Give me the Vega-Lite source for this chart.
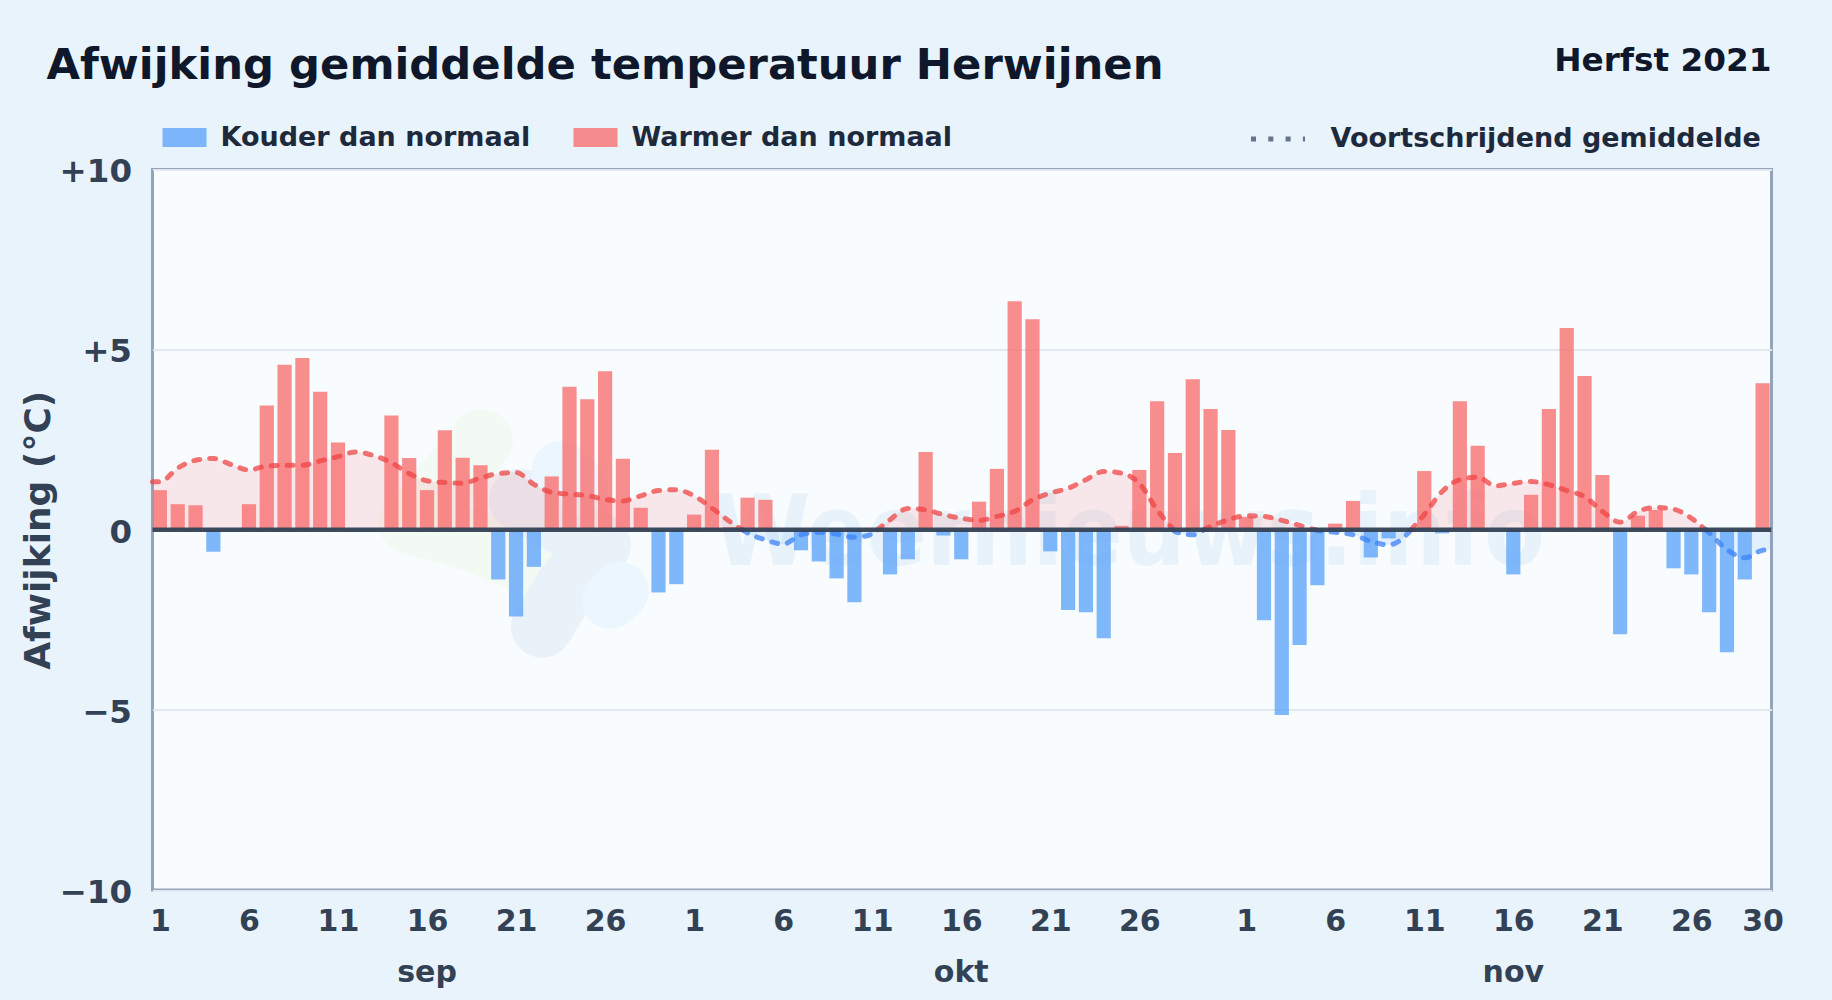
{
"$schema":"https://vega.github.io/schema/vega-lite/v6.json",
"width":1619,"height":720.5,
"autosize":{"type":"none"},
"padding":{"left":152.5,"top":169.5,"right":60,"bottom":110},
"background":"#e8f3fc",
"view":{"fill":"#f8fcff","stroke":"#94a3b8","strokeWidth":3},
"title":{"text":"Afwijking gemiddelde temperatuur Herwijnen","anchor":"start","frame":"group","dx":-106,"offset":0,"dy":44,"font":"DejaVu Sans","fontSize":43.3,"fontWeight":"bold","color":"#0f172a"},
"config":{"font":"DejaVu Sans"},
"datasets":{
"logo":[
{"datum":"2021-09-19T02:00:00Z","waarde":2.49,"vlek":"a","volgorde":1},{"datum":"2021-09-16T17:00:00Z","waarde":1.1,"vlek":"a","volgorde":2},{"datum":"2021-09-15T00:00:00Z","waarde":0.2,"vlek":"a","volgorde":3},{"datum":"2021-09-18T10:00:00Z","waarde":-0.28,"vlek":"a","volgorde":4},{"datum":"2021-09-21T14:00:00Z","waarde":-0.91,"vlek":"a","volgorde":5}
],
"logo2":[
{"datum":"2021-09-22T11:00:00Z","waarde":-2.69,"vlek":"b","volgorde":1},{"datum":"2021-09-23T17:00:00Z","waarde":-1.66,"vlek":"b","volgorde":2},{"datum":"2021-09-25T17:00:00Z","waarde":-0.42,"vlek":"b","volgorde":3},{"datum":"2021-09-21T05:00:00Z","waarde":0.83,"vlek":"b","volgorde":4}
],
"logo3":[
{"datum":"2021-09-26T07:00:00Z","waarde":-1.94,"vlek":"c"},{"datum":"2021-09-26T20:00:00Z","waarde":-1.7,"vlek":"c"},
{"datum":"2021-09-23T12:00:00Z","waarde":1.66,"vlek":"d"},{"datum":"2021-09-24T12:00:00Z","waarde":1.2,"vlek":"d"}
],
"balken":[
{"datum":"2021-09-01","waarde":1.1,"categorie":"Warmer dan normaal"},
{"datum":"2021-09-02","waarde":0.71,"categorie":"Warmer dan normaal"},
{"datum":"2021-09-03","waarde":0.68,"categorie":"Warmer dan normaal"},
{"datum":"2021-09-04","waarde":-0.61,"categorie":"Kouder dan normaal"},
{"datum":"2021-09-05","waarde":0,"categorie":"Warmer dan normaal"},
{"datum":"2021-09-06","waarde":0.71,"categorie":"Warmer dan normaal"},
{"datum":"2021-09-07","waarde":3.45,"categorie":"Warmer dan normaal"},
{"datum":"2021-09-08","waarde":4.58,"categorie":"Warmer dan normaal"},
{"datum":"2021-09-09","waarde":4.77,"categorie":"Warmer dan normaal"},
{"datum":"2021-09-10","waarde":3.83,"categorie":"Warmer dan normaal"},
{"datum":"2021-09-11","waarde":2.42,"categorie":"Warmer dan normaal"},
{"datum":"2021-09-12","waarde":0,"categorie":"Warmer dan normaal"},
{"datum":"2021-09-13","waarde":0,"categorie":"Warmer dan normaal"},
{"datum":"2021-09-14","waarde":3.17,"categorie":"Warmer dan normaal"},
{"datum":"2021-09-15","waarde":1.99,"categorie":"Warmer dan normaal"},
{"datum":"2021-09-16","waarde":1.1,"categorie":"Warmer dan normaal"},
{"datum":"2021-09-17","waarde":2.76,"categorie":"Warmer dan normaal"},
{"datum":"2021-09-18","waarde":2.0,"categorie":"Warmer dan normaal"},
{"datum":"2021-09-19","waarde":1.79,"categorie":"Warmer dan normaal"},
{"datum":"2021-09-20","waarde":-1.38,"categorie":"Kouder dan normaal"},
{"datum":"2021-09-21","waarde":-2.41,"categorie":"Kouder dan normaal"},
{"datum":"2021-09-22","waarde":-1.03,"categorie":"Kouder dan normaal"},
{"datum":"2021-09-23","waarde":1.48,"categorie":"Warmer dan normaal"},
{"datum":"2021-09-24","waarde":3.97,"categorie":"Warmer dan normaal"},
{"datum":"2021-09-25","waarde":3.62,"categorie":"Warmer dan normaal"},
{"datum":"2021-09-26","waarde":4.4,"categorie":"Warmer dan normaal"},
{"datum":"2021-09-27","waarde":1.97,"categorie":"Warmer dan normaal"},
{"datum":"2021-09-28","waarde":0.61,"categorie":"Warmer dan normaal"},
{"datum":"2021-09-29","waarde":-1.74,"categorie":"Kouder dan normaal"},
{"datum":"2021-09-30","waarde":-1.51,"categorie":"Kouder dan normaal"},
{"datum":"2021-10-01","waarde":0.42,"categorie":"Warmer dan normaal"},
{"datum":"2021-10-02","waarde":2.22,"categorie":"Warmer dan normaal"},
{"datum":"2021-10-03","waarde":0.07,"categorie":"Warmer dan normaal"},
{"datum":"2021-10-04","waarde":0.89,"categorie":"Warmer dan normaal"},
{"datum":"2021-10-05","waarde":0.83,"categorie":"Warmer dan normaal"},
{"datum":"2021-10-06","waarde":0,"categorie":"Warmer dan normaal"},
{"datum":"2021-10-07","waarde":-0.57,"categorie":"Kouder dan normaal"},
{"datum":"2021-10-08","waarde":-0.88,"categorie":"Kouder dan normaal"},
{"datum":"2021-10-09","waarde":-1.35,"categorie":"Kouder dan normaal"},
{"datum":"2021-10-10","waarde":-2.01,"categorie":"Kouder dan normaal"},
{"datum":"2021-10-11","waarde":0,"categorie":"Warmer dan normaal"},
{"datum":"2021-10-12","waarde":-1.24,"categorie":"Kouder dan normaal"},
{"datum":"2021-10-13","waarde":-0.82,"categorie":"Kouder dan normaal"},
{"datum":"2021-10-14","waarde":2.16,"categorie":"Warmer dan normaal"},
{"datum":"2021-10-15","waarde":-0.16,"categorie":"Kouder dan normaal"},
{"datum":"2021-10-16","waarde":-0.82,"categorie":"Kouder dan normaal"},
{"datum":"2021-10-17","waarde":0.78,"categorie":"Warmer dan normaal"},
{"datum":"2021-10-18","waarde":1.69,"categorie":"Warmer dan normaal"},
{"datum":"2021-10-19","waarde":6.34,"categorie":"Warmer dan normaal"},
{"datum":"2021-10-20","waarde":5.84,"categorie":"Warmer dan normaal"},
{"datum":"2021-10-21","waarde":-0.6,"categorie":"Kouder dan normaal"},
{"datum":"2021-10-22","waarde":-2.23,"categorie":"Kouder dan normaal"},
{"datum":"2021-10-23","waarde":-2.29,"categorie":"Kouder dan normaal"},
{"datum":"2021-10-24","waarde":-3.01,"categorie":"Kouder dan normaal"},
{"datum":"2021-10-25","waarde":0.11,"categorie":"Warmer dan normaal"},
{"datum":"2021-10-26","waarde":1.66,"categorie":"Warmer dan normaal"},
{"datum":"2021-10-27","waarde":3.57,"categorie":"Warmer dan normaal"},
{"datum":"2021-10-28","waarde":2.13,"categorie":"Warmer dan normaal"},
{"datum":"2021-10-29","waarde":4.18,"categorie":"Warmer dan normaal"},
{"datum":"2021-10-30","waarde":3.35,"categorie":"Warmer dan normaal"},
{"datum":"2021-10-31","waarde":2.77,"categorie":"Warmer dan normaal"},
{"datum":"2021-11-01","waarde":0.35,"categorie":"Warmer dan normaal"},
{"datum":"2021-11-02","waarde":-2.51,"categorie":"Kouder dan normaal"},
{"datum":"2021-11-03","waarde":-5.14,"categorie":"Kouder dan normaal"},
{"datum":"2021-11-04","waarde":-3.2,"categorie":"Kouder dan normaal"},
{"datum":"2021-11-05","waarde":-1.54,"categorie":"Kouder dan normaal"},
{"datum":"2021-11-06","waarde":0.17,"categorie":"Warmer dan normaal"},
{"datum":"2021-11-07","waarde":0.8,"categorie":"Warmer dan normaal"},
{"datum":"2021-11-08","waarde":-0.77,"categorie":"Kouder dan normaal"},
{"datum":"2021-11-09","waarde":-0.24,"categorie":"Kouder dan normaal"},
{"datum":"2021-11-10","waarde":0,"categorie":"Warmer dan normaal"},
{"datum":"2021-11-11","waarde":1.63,"categorie":"Warmer dan normaal"},
{"datum":"2021-11-12","waarde":-0.1,"categorie":"Kouder dan normaal"},
{"datum":"2021-11-13","waarde":3.57,"categorie":"Warmer dan normaal"},
{"datum":"2021-11-14","waarde":2.33,"categorie":"Warmer dan normaal"},
{"datum":"2021-11-15","waarde":0,"categorie":"Warmer dan normaal"},
{"datum":"2021-11-16","waarde":-1.24,"categorie":"Kouder dan normaal"},
{"datum":"2021-11-17","waarde":0.97,"categorie":"Warmer dan normaal"},
{"datum":"2021-11-18","waarde":3.35,"categorie":"Warmer dan normaal"},
{"datum":"2021-11-19","waarde":5.6,"categorie":"Warmer dan normaal"},
{"datum":"2021-11-20","waarde":4.27,"categorie":"Warmer dan normaal"},
{"datum":"2021-11-21","waarde":1.52,"categorie":"Warmer dan normaal"},
{"datum":"2021-11-22","waarde":-2.9,"categorie":"Kouder dan normaal"},
{"datum":"2021-11-23","waarde":0.39,"categorie":"Warmer dan normaal"},
{"datum":"2021-11-24","waarde":0.55,"categorie":"Warmer dan normaal"},
{"datum":"2021-11-25","waarde":-1.07,"categorie":"Kouder dan normaal"},
{"datum":"2021-11-26","waarde":-1.24,"categorie":"Kouder dan normaal"},
{"datum":"2021-11-27","waarde":-2.29,"categorie":"Kouder dan normaal"},
{"datum":"2021-11-28","waarde":-3.4,"categorie":"Kouder dan normaal"},
{"datum":"2021-11-29","waarde":-1.38,"categorie":"Kouder dan normaal"},
{"datum":"2021-11-30","waarde":4.07,"categorie":"Warmer dan normaal"}
],
"gemiddelde":[
{"datum":"2021-08-31T14:00:00Z","waarde":1.33,"categorie":"Warmer dan normaal","segment":1},
{"datum":"2021-09-01","waarde":1.33,"categorie":"Warmer dan normaal","segment":1},
{"datum":"2021-09-02","waarde":1.71,"categorie":"Warmer dan normaal","segment":1},
{"datum":"2021-09-03","waarde":1.93,"categorie":"Warmer dan normaal","segment":1},
{"datum":"2021-09-04","waarde":1.98,"categorie":"Warmer dan normaal","segment":1},
{"datum":"2021-09-05","waarde":1.81,"categorie":"Warmer dan normaal","segment":1},
{"datum":"2021-09-06","waarde":1.66,"categorie":"Warmer dan normaal","segment":1},
{"datum":"2021-09-07","waarde":1.77,"categorie":"Warmer dan normaal","segment":1},
{"datum":"2021-09-08","waarde":1.79,"categorie":"Warmer dan normaal","segment":1},
{"datum":"2021-09-09","waarde":1.79,"categorie":"Warmer dan normaal","segment":1},
{"datum":"2021-09-10","waarde":1.91,"categorie":"Warmer dan normaal","segment":1},
{"datum":"2021-09-11","waarde":2.03,"categorie":"Warmer dan normaal","segment":1},
{"datum":"2021-09-12","waarde":2.16,"categorie":"Warmer dan normaal","segment":1},
{"datum":"2021-09-13","waarde":2.06,"categorie":"Warmer dan normaal","segment":1},
{"datum":"2021-09-14","waarde":1.86,"categorie":"Warmer dan normaal","segment":1},
{"datum":"2021-09-15","waarde":1.56,"categorie":"Warmer dan normaal","segment":1},
{"datum":"2021-09-16","waarde":1.36,"categorie":"Warmer dan normaal","segment":1},
{"datum":"2021-09-17","waarde":1.31,"categorie":"Warmer dan normaal","segment":1},
{"datum":"2021-09-18","waarde":1.29,"categorie":"Warmer dan normaal","segment":1},
{"datum":"2021-09-19","waarde":1.44,"categorie":"Warmer dan normaal","segment":1},
{"datum":"2021-09-20","waarde":1.56,"categorie":"Warmer dan normaal","segment":1},
{"datum":"2021-09-21","waarde":1.59,"categorie":"Warmer dan normaal","segment":1},
{"datum":"2021-09-22","waarde":1.26,"categorie":"Warmer dan normaal","segment":1},
{"datum":"2021-09-23","waarde":1.04,"categorie":"Warmer dan normaal","segment":1},
{"datum":"2021-09-24","waarde":0.99,"categorie":"Warmer dan normaal","segment":1},
{"datum":"2021-09-25","waarde":0.95,"categorie":"Warmer dan normaal","segment":1},
{"datum":"2021-09-26","waarde":0.84,"categorie":"Warmer dan normaal","segment":1},
{"datum":"2021-09-27","waarde":0.8,"categorie":"Warmer dan normaal","segment":1},
{"datum":"2021-09-28","waarde":0.94,"categorie":"Warmer dan normaal","segment":1},
{"datum":"2021-09-29","waarde":1.09,"categorie":"Warmer dan normaal","segment":1},
{"datum":"2021-09-30","waarde":1.11,"categorie":"Warmer dan normaal","segment":1},
{"datum":"2021-10-01","waarde":0.94,"categorie":"Warmer dan normaal","segment":1},
{"datum":"2021-10-02","waarde":0.6,"categorie":"Warmer dan normaal","segment":1},
{"datum":"2021-10-03","waarde":0.23,"categorie":"Warmer dan normaal","segment":1},
{"datum":"2021-10-03T17:00:00Z","waarde":0,"categorie":"Warmer dan normaal","segment":1},
{"datum":"2021-10-03T17:00:00Z","waarde":0,"categorie":"Kouder dan normaal","segment":2},
{"datum":"2021-10-04","waarde":-0.09,"categorie":"Kouder dan normaal","segment":2},
{"datum":"2021-10-05","waarde":-0.28,"categorie":"Kouder dan normaal","segment":2},
{"datum":"2021-10-06","waarde":-0.4,"categorie":"Kouder dan normaal","segment":2},
{"datum":"2021-10-07","waarde":-0.14,"categorie":"Kouder dan normaal","segment":2},
{"datum":"2021-10-08","waarde":-0.07,"categorie":"Kouder dan normaal","segment":2},
{"datum":"2021-10-09","waarde":-0.12,"categorie":"Kouder dan normaal","segment":2},
{"datum":"2021-10-10","waarde":-0.21,"categorie":"Kouder dan normaal","segment":2},
{"datum":"2021-10-11","waarde":-0.12,"categorie":"Kouder dan normaal","segment":2},
{"datum":"2021-10-11T07:00:00Z","waarde":0,"categorie":"Kouder dan normaal","segment":2},
{"datum":"2021-10-11T07:00:00Z","waarde":0,"categorie":"Warmer dan normaal","segment":3},
{"datum":"2021-10-12","waarde":0.28,"categorie":"Warmer dan normaal","segment":3},
{"datum":"2021-10-13","waarde":0.59,"categorie":"Warmer dan normaal","segment":3},
{"datum":"2021-10-14","waarde":0.55,"categorie":"Warmer dan normaal","segment":3},
{"datum":"2021-10-15","waarde":0.42,"categorie":"Warmer dan normaal","segment":3},
{"datum":"2021-10-16","waarde":0.32,"categorie":"Warmer dan normaal","segment":3},
{"datum":"2021-10-17","waarde":0.26,"categorie":"Warmer dan normaal","segment":3},
{"datum":"2021-10-18","waarde":0.37,"categorie":"Warmer dan normaal","segment":3},
{"datum":"2021-10-19","waarde":0.51,"categorie":"Warmer dan normaal","segment":3},
{"datum":"2021-10-20","waarde":0.83,"categorie":"Warmer dan normaal","segment":3},
{"datum":"2021-10-21","waarde":1.02,"categorie":"Warmer dan normaal","segment":3},
{"datum":"2021-10-22","waarde":1.15,"categorie":"Warmer dan normaal","segment":3},
{"datum":"2021-10-23","waarde":1.39,"categorie":"Warmer dan normaal","segment":3},
{"datum":"2021-10-24","waarde":1.62,"categorie":"Warmer dan normaal","segment":3},
{"datum":"2021-10-25","waarde":1.57,"categorie":"Warmer dan normaal","segment":3},
{"datum":"2021-10-26","waarde":1.29,"categorie":"Warmer dan normaal","segment":3},
{"datum":"2021-10-27","waarde":0.55,"categorie":"Warmer dan normaal","segment":3},
{"datum":"2021-10-27T22:00:00Z","waarde":0,"categorie":"Warmer dan normaal","segment":3},
{"datum":"2021-10-27T22:00:00Z","waarde":0,"categorie":"Kouder dan normaal","segment":4},
{"datum":"2021-10-28","waarde":-0.05,"categorie":"Kouder dan normaal","segment":4},
{"datum":"2021-10-29","waarde":-0.14,"categorie":"Kouder dan normaal","segment":4},
{"datum":"2021-10-29T15:00:00Z","waarde":0,"categorie":"Kouder dan normaal","segment":4},
{"datum":"2021-10-29T15:00:00Z","waarde":0,"categorie":"Warmer dan normaal","segment":5},
{"datum":"2021-10-30","waarde":0.09,"categorie":"Warmer dan normaal","segment":5},
{"datum":"2021-10-31","waarde":0.28,"categorie":"Warmer dan normaal","segment":5},
{"datum":"2021-11-01","waarde":0.39,"categorie":"Warmer dan normaal","segment":5},
{"datum":"2021-11-02","waarde":0.37,"categorie":"Warmer dan normaal","segment":5},
{"datum":"2021-11-03","waarde":0.26,"categorie":"Warmer dan normaal","segment":5},
{"datum":"2021-11-04","waarde":0.12,"categorie":"Warmer dan normaal","segment":5},
{"datum":"2021-11-04T21:00:00Z","waarde":0,"categorie":"Warmer dan normaal","segment":5},
{"datum":"2021-11-04T21:00:00Z","waarde":0,"categorie":"Kouder dan normaal","segment":6},
{"datum":"2021-11-05","waarde":-0.02,"categorie":"Kouder dan normaal","segment":6},
{"datum":"2021-11-06","waarde":-0.07,"categorie":"Kouder dan normaal","segment":6},
{"datum":"2021-11-07","waarde":-0.14,"categorie":"Kouder dan normaal","segment":6},
{"datum":"2021-11-08","waarde":-0.32,"categorie":"Kouder dan normaal","segment":6},
{"datum":"2021-11-09","waarde":-0.42,"categorie":"Kouder dan normaal","segment":6},
{"datum":"2021-11-10","waarde":-0.14,"categorie":"Kouder dan normaal","segment":6},
{"datum":"2021-11-10T06:00:00Z","waarde":0,"categorie":"Kouder dan normaal","segment":6},
{"datum":"2021-11-10T06:00:00Z","waarde":0,"categorie":"Warmer dan normaal","segment":7},
{"datum":"2021-11-11","waarde":0.42,"categorie":"Warmer dan normaal","segment":7},
{"datum":"2021-11-12","waarde":1.06,"categorie":"Warmer dan normaal","segment":7},
{"datum":"2021-11-13","waarde":1.39,"categorie":"Warmer dan normaal","segment":7},
{"datum":"2021-11-14","waarde":1.46,"categorie":"Warmer dan normaal","segment":7},
{"datum":"2021-11-15","waarde":1.22,"categorie":"Warmer dan normaal","segment":7},
{"datum":"2021-11-16","waarde":1.29,"categorie":"Warmer dan normaal","segment":7},
{"datum":"2021-11-17","waarde":1.34,"categorie":"Warmer dan normaal","segment":7},
{"datum":"2021-11-18","waarde":1.25,"categorie":"Warmer dan normaal","segment":7},
{"datum":"2021-11-19","waarde":1.09,"categorie":"Warmer dan normaal","segment":7},
{"datum":"2021-11-20","waarde":0.92,"categorie":"Warmer dan normaal","segment":7},
{"datum":"2021-11-21","waarde":0.51,"categorie":"Warmer dan normaal","segment":7},
{"datum":"2021-11-22","waarde":0.21,"categorie":"Warmer dan normaal","segment":7},
{"datum":"2021-11-23","waarde":0.51,"categorie":"Warmer dan normaal","segment":7},
{"datum":"2021-11-24","waarde":0.62,"categorie":"Warmer dan normaal","segment":7},
{"datum":"2021-11-25","waarde":0.57,"categorie":"Warmer dan normaal","segment":7},
{"datum":"2021-11-26","waarde":0.32,"categorie":"Warmer dan normaal","segment":7},
{"datum":"2021-11-26T19:00:00Z","waarde":0,"categorie":"Warmer dan normaal","segment":7},
{"datum":"2021-11-26T19:00:00Z","waarde":0,"categorie":"Kouder dan normaal","segment":8},
{"datum":"2021-11-27","waarde":-0.09,"categorie":"Kouder dan normaal","segment":8},
{"datum":"2021-11-28","waarde":-0.55,"categorie":"Kouder dan normaal","segment":8},
{"datum":"2021-11-29","waarde":-0.78,"categorie":"Kouder dan normaal","segment":8},
{"datum":"2021-11-30","waarde":-0.57,"categorie":"Kouder dan normaal","segment":8},
{"datum":"2021-11-30T12:00:00Z","waarde":-0.55,"categorie":"Kouder dan normaal","segment":8}
]
},
"encoding":{
"x":{"field":"datum","type":"temporal","title":null,
"scale":{"type":"utc","padding":0,"domain":["2021-08-31T14:00:00Z","2021-11-30T12:00:00Z"]},
"axis":{"values":["2021-09-01","2021-09-06","2021-09-11","2021-09-16","2021-09-21","2021-09-26","2021-10-01","2021-10-06","2021-10-11","2021-10-16","2021-10-21","2021-10-26","2021-11-01","2021-11-06","2021-11-11","2021-11-16","2021-11-21","2021-11-26","2021-11-30"],
"format":"%-d","grid":false,"domain":false,"ticks":false,"labelPadding":16,"labelFont":"DejaVu Sans","labelFontSize":30,"labelFontWeight":"bold","labelColor":"#334155","labelOverlap":false,"labelFlush":false,"labelBound":false,"labelAngle":0}},
"y":{"field":"waarde","type":"quantitative","title":"Afwijking (°C)",
"scale":{"domain":[-10,10],"nice":false},
"axis":{"values":[-10,-5,0,5,10],"labelExpr":"datum.value>0?'+'+datum.value:(datum.value<0?'−'+abs(datum.value):'0')","grid":true,"gridColor":"#e2e8f0","gridWidth":2,"domain":false,"ticks":false,"labelPadding":21,"labelOffset":2.3,"labelFont":"DejaVu Sans","labelFontSize":32.5,"labelFontWeight":"bold","labelColor":"#334155","titleFont":"DejaVu Sans","titleFontSize":36,"titleFontWeight":"bold","titleColor":"#334155","titleX":-95}}
},
"layer":[
{"data":{"name":"logo"},"mark":{"type":"line","stroke":"#f3faf3","strokeWidth":62,"strokeCap":"round","strokeJoin":"round"},"encoding":{"detail":{"field":"vlek"},"order":{"field":"volgorde"}}},
{"data":{"name":"logo2"},"mark":{"type":"line","stroke":"#e9f1f9","strokeWidth":62,"strokeCap":"round","strokeJoin":"round"},"encoding":{"detail":{"field":"vlek"},"order":{"field":"volgorde"}}},
{"data":{"name":"logo3"},"mark":{"type":"line","stroke":"#ebf6fe","strokeWidth":58,"strokeCap":"round","strokeJoin":"round"},"encoding":{"detail":{"field":"vlek"}}},
{"data":{"values":[{"datum":"2021-10-25T10:00:00Z","waarde":-0.97,"tekst":"Weernieuws.info"}]},"mark":{"type":"text","font":"DejaVu Sans Condensed","fontWeight":"bold","fontSize":98,"color":"#e8f2fa","align":"center","baseline":"alphabetic"},"encoding":{"text":{"field":"tekst"}}},
{"data":{"name":"gemiddelde"},"mark":{"type":"area","interpolate":"monotone","opacity":0.15},"encoding":{"y2":{"datum":0},"detail":{"field":"segment"},"fill":{"field":"categorie","type":"nominal","scale":{"domain":["Kouder dan normaal","Warmer dan normaal"],"range":["#60a5fa","#f87171"]},"legend":{"title":null,"orient":"none","legendX":10,"legendY":-54,"direction":"horizontal","columns":2,"gridAlign":"each","columnPadding":43,"symbolType":"M-1,-0.43H1V0.43H-1Z","symbolSize":1936,"symbolOpacity":0.8,"symbolStrokeWidth":0,"labelOffset":14,"labelFont":"DejaVu Sans","labelFontSize":27,"labelFontWeight":"bold","labelColor":"#1e293b","labelLimit":500}}}},
{"data":{"name":"balken"},"mark":{"type":"bar","size":14.2,"opacity":0.8},"encoding":{"y2":{"datum":0},"fill":{"field":"categorie","type":"nominal","scale":{"domain":["Kouder dan normaal","Warmer dan normaal"],"range":["#60a5fa","#f87171"]},"legend":{"title":null,"orient":"none","legendX":10,"legendY":-54,"direction":"horizontal","columns":2,"gridAlign":"each","columnPadding":43,"symbolType":"M-1,-0.43H1V0.43H-1Z","symbolSize":1936,"symbolOpacity":0.8,"symbolStrokeWidth":0,"labelOffset":14,"labelFont":"DejaVu Sans","labelFontSize":27,"labelFontWeight":"bold","labelColor":"#1e293b","labelLimit":500}}}},
{"data":{"name":"gemiddelde"},"mark":{"type":"line","interpolate":"monotone","strokeWidth":5,"strokeDash":[6,10],"strokeCap":"round","opacity":0.75},"encoding":{"detail":{"field":"segment"},"stroke":{"field":"categorie","type":"nominal","scale":{"domain":["Kouder dan normaal","Warmer dan normaal"],"range":["#3b82f6","#ef4444"]},"legend":null}}},
{"data":{"values":[{"datum":"2021-09-01","waarde":0,"reeks":"Voortschrijdend gemiddelde"}]},"mark":{"type":"line","stroke":"#64748b","strokeWidth":5,"strokeCap":"butt"},"encoding":{"strokeDash":{"field":"reeks","type":"nominal","scale":{"domain":["Voortschrijdend gemiddelde"],"range":[[5,12.3]]},"legend":{"title":null,"orient":"none","legendX":1096,"legendY":-60,"symbolType":"stroke","symbolSize":2916,"symbolStrokeWidth":5,"labelOffset":23,"labelFont":"DejaVu Sans","labelFontSize":27,"labelFontWeight":"bold","labelColor":"#1e293b","labelLimit":500}}}},
{"data":{"values":[{"datum":"2021-08-31T14:00:00Z","eind":"2021-11-30T12:00:00Z","waarde":0}]},"mark":{"type":"rule","color":"#334155","strokeWidth":4.5,"opacity":0.95},"encoding":{"x2":{"field":"eind"}}},
{"data":{"values":[{"datum":"2021-09-16","waarde":-12.55,"tekst":"sep"},{"datum":"2021-10-16","waarde":-12.55,"tekst":"okt"},{"datum":"2021-11-16","waarde":-12.55,"tekst":"nov"}]},"mark":{"type":"text","font":"DejaVu Sans","fontWeight":"bold","fontSize":30,"color":"#334155","align":"center","baseline":"alphabetic"},"encoding":{"text":{"field":"tekst"}}},
{"data":{"values":[{"datum":"2021-11-30T12:00:00Z","waarde":12.74,"tekst":"Herfst 2021"}]},"mark":{"type":"text","font":"DejaVu Sans","fontWeight":"bold","fontSize":32.7,"color":"#0f172a","align":"right","baseline":"alphabetic"},"encoding":{"text":{"field":"tekst"}}}
]
}
